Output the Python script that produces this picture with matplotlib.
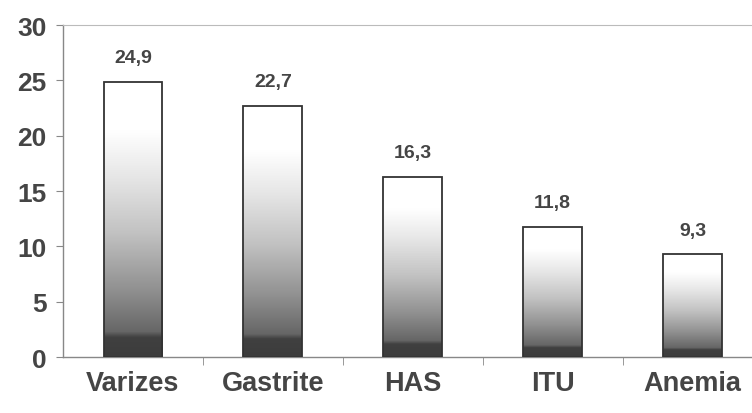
import matplotlib
matplotlib.use("Agg")
import matplotlib.pyplot as plt
import numpy as np
from matplotlib.colors import LinearSegmentedColormap

categories = ["Varizes", "Gastrite", "HAS", "ITU", "Anemia"]
values = [24.9, 22.7, 16.3, 11.8, 9.3]
value_labels = ["24,9", "22,7", "16,3", "11,8", "9,3"]
yticks = [0, 5, 10, 15, 20, 25, 30]

TEXT = "#454545"
plt.rcParams["font.family"] = ["Liberation Sans", "DejaVu Sans"]

# dark at the base, fading to white near the top of each bar
shade = LinearSegmentedColormap.from_list("shade", [
    (0.0, "#3c3c3c"), (0.07, "#404040"), (0.09, "#666666"),
    (0.25, "#929292"), (0.45, "#c2c2c2"), (0.65, "#e6e6e6"),
    (0.82, "#ffffff"), (1.0, "#ffffff")])

fig = plt.figure(figsize=(7.52, 4.14), dpi=100)
ax = fig.add_axes([0.0838, 0.135, 0.93, 0.802])

x = np.arange(len(categories))
width = 0.42
grad = np.linspace(0, 1, 256).reshape(-1, 1)
bars = ax.bar(x, values, width=width, facecolor="none",
              edgecolor="#333333", linewidth=1.3, zorder=3)
for xi, v, bar, lab in zip(x, values, bars, value_labels):
    im = ax.imshow(grad, cmap=shade, origin="lower", aspect="auto",
                   extent=(xi - width / 2, xi + width / 2, 0, v), zorder=2)
    im.set_clip_path(bar)
    ax.text(xi, v + 1.4, lab, ha="center", va="bottom", fontsize=14,
            fontweight="bold", color=TEXT)

ax.set_xlim(-0.5, len(categories) - 0.5)
ax.set_ylim(0, 30)
ax.set_yticks(yticks)
ax.set_yticklabels([str(t) for t in yticks], fontsize=19, fontweight="bold", color=TEXT)
ax.set_xticks(x)
ax.set_xticklabels(categories, fontsize=19.5, fontweight="bold", color=TEXT)
ax.set_xticks(np.arange(len(categories)) + 0.5, minor=True)
ax.tick_params(axis="x", which="major", length=0, pad=9)
ax.tick_params(axis="x", which="minor", length=6, color="#888888")
ax.tick_params(axis="y", length=5, color="#888888", pad=7)

for s in ["left", "bottom"]:
    ax.spines[s].set_color("#888888")
    ax.spines[s].set_linewidth(1.0)
ax.spines["top"].set_color("#bbbbbb")
ax.spines["right"].set_visible(False)

fig.savefig("out.png", dpi=100)
